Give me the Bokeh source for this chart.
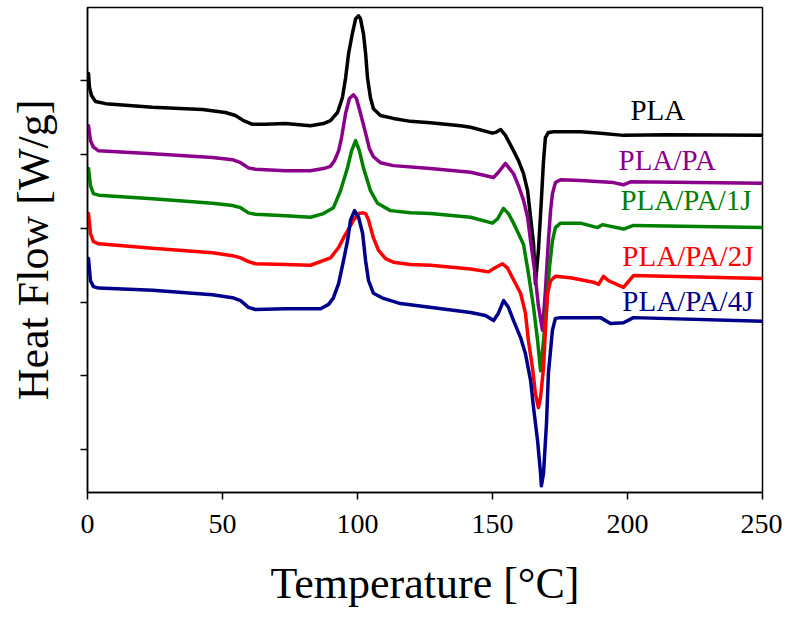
from bokeh.plotting import figure
from bokeh.models import FixedTicker, Label, Range1d
from bokeh.embed import file_html
from bokeh.resources import INLINE

temp_ticks = [0, 50, 100, 150, 200, 250]
hf_ticks = [1, 2, 3, 4, 5, 6]

names = ["PLA", "PLA/PA", "PLA/PA/1J", "PLA/PA/2J", "PLA/PA/4J"]
colors = ["#000000", "#8B008B", "#008000", "#FF0000", "#00008B"]

pla_t = [0.37, 0.74, 1.48, 2.96, 6.7, 24.1, 42.6, 51.1, 54.8, 57.8, 61.1, 65.9, 73.3, 82.6, 87.4,
         90.0, 92.6, 94.4, 95.6, 96.7, 98.1, 99.3, 100.4, 101.1, 102.2, 103.0, 103.7, 104.8, 105.9,
         108.5, 113.3, 119.6, 127.0, 138.1, 141.9, 150.0, 151.1, 153.0, 154.8, 157.4, 159.6, 161.5,
         163.0, 164.1, 165.2, 165.9, 167.0, 168.1, 168.9, 169.6, 170.7, 172.6, 182.6, 190.0, 198.5,
         214.8, 250.0]
pla_hf = [6.10, 5.91, 5.80, 5.72, 5.69, 5.64, 5.61, 5.57, 5.53, 5.46, 5.41, 5.41, 5.42, 5.39, 5.42,
          5.46, 5.57, 5.77, 6.04, 6.37, 6.64, 6.84, 6.88, 6.84, 6.64, 6.37, 6.04, 5.77, 5.62,
          5.53, 5.49, 5.45, 5.43, 5.39, 5.37, 5.29, 5.30, 5.34, 5.26, 5.08, 4.92, 4.74,
          4.51, 4.15, 3.79, 3.25, 3.70, 4.38, 4.92, 5.23, 5.30, 5.31, 5.31, 5.29, 5.26,
          5.27, 5.26]

pa_t = [0.37, 1.1, 2.2, 4.1, 24.1, 46.3, 53.7, 56.7, 59.6, 62.2, 73.3, 82.6, 87.4, 90.0, 91.5,
        93.0, 94.1, 95.6, 97.0, 98.5, 99.6, 101.1, 103.0, 104.4, 105.9, 108.5, 113.3, 127.0, 141.9,
        150.4, 152.2, 154.8, 156.3, 157.8, 159.6, 161.5, 163.0, 164.1, 165.6, 167.0, 168.5, 169.6,
        170.7, 171.5, 172.2, 173.3, 175.2, 182.6, 194.8, 198.5, 201.1, 250.0]
pa_hf = [5.39, 5.19, 5.10, 5.05, 5.01, 4.96, 4.93, 4.89, 4.82, 4.80, 4.78, 4.78, 4.81, 4.84, 4.92,
         5.05, 5.23, 5.56, 5.76, 5.81, 5.76, 5.56, 5.29, 5.08, 4.97, 4.89, 4.85, 4.81, 4.76,
         4.69, 4.76, 4.88, 4.81, 4.74, 4.58, 4.38, 4.15, 3.83, 3.43, 2.95, 2.62, 3.16,
         3.83, 4.24, 4.47, 4.62, 4.66, 4.65, 4.62, 4.59, 4.63, 4.61]

j1_t = [0.37, 1.1, 2.2, 4.1, 24.1, 46.3, 53.7, 56.7, 59.6, 62.2, 73.3, 82.6, 87.4, 91.1, 93.7,
        96.3, 97.8, 99.3, 100.7, 102.2, 104.8, 107.4, 112.2, 119.6, 127.0, 141.9, 150.0, 151.9,
        154.1, 155.9, 157.8, 159.6, 161.5, 163.3, 165.2, 166.7, 167.8, 168.9, 170.0, 171.1, 172.2,
        173.3, 175.2, 182.6, 188.9, 190.7, 198.5, 202.2, 250.0]
j1_hf = [4.81, 4.58, 4.47, 4.45, 4.40, 4.34, 4.31, 4.28, 4.21, 4.19, 4.17, 4.15, 4.20, 4.28, 4.51,
         4.82, 5.05, 5.19, 5.05, 4.82, 4.51, 4.34, 4.24, 4.21, 4.20, 4.15, 4.07, 4.13,
         4.27, 4.20, 4.07, 3.93, 3.78, 3.39, 2.93, 2.48, 2.07, 2.48, 2.93, 3.47, 3.83,
         4.01, 4.07, 4.07, 4.01, 4.05, 3.99, 4.04, 4.01]

j2_t = [0.37, 1.1, 2.2, 4.1, 24.1, 46.3, 53.7, 56.7, 59.6, 62.2, 73.3, 82.6, 90.0, 93.0, 94.8,
        96.7, 98.5, 100.4, 101.9, 103.0, 104.1, 105.9, 107.8, 110.4, 113.3, 119.6, 127.0, 141.9,
        148.5, 151.1, 153.7, 155.6, 157.4, 160.4, 162.2, 163.3, 164.8, 165.9, 167.0, 167.8, 168.9,
        169.6, 170.4, 171.5, 173.3, 178.9, 187.4, 189.3, 191.1, 193.0, 198.5, 202.2, 250.0]
j2_hf = [4.20, 3.93, 3.82, 3.79, 3.73, 3.67, 3.63, 3.60, 3.55, 3.52, 3.51, 3.50, 3.60, 3.74, 3.87,
         3.99, 4.11, 4.20, 4.21, 4.20, 4.11, 3.87, 3.70, 3.59, 3.54, 3.51, 3.50, 3.45,
         3.41, 3.47, 3.52, 3.46, 3.33, 3.12, 2.85, 2.48, 2.11, 1.76, 1.57, 1.71, 2.11,
         2.62, 3.12, 3.29, 3.35, 3.33, 3.27, 3.24, 3.35, 3.29, 3.20, 3.36, 3.32]

j4_t = [0.37, 1.1, 2.2, 4.1, 24.1, 46.3, 53.7, 56.7, 59.6, 62.2, 73.3, 86.3, 89.3, 91.1, 93.0,
        94.8, 96.3, 97.4, 98.9, 100.4, 101.9, 103.0, 104.1, 105.9, 109.6, 115.9, 141.9, 147.4,
        150.4, 152.2, 154.1, 155.9, 157.8, 160.4, 162.2, 164.1, 165.2, 166.7, 167.8, 168.1, 168.9,
        170.0, 170.7, 172.2, 173.3, 175.2, 190.0, 193.7, 198.5, 202.2, 250.0]
j4_hf = [3.59, 3.29, 3.21, 3.19, 3.16, 3.10, 3.06, 3.02, 2.93, 2.90, 2.91, 2.91, 2.97, 3.06, 3.25,
         3.56, 3.83, 4.11, 4.24, 4.15, 3.93, 3.56, 3.29, 3.12, 3.05, 2.98, 2.86, 2.82,
         2.75, 2.85, 3.02, 2.93, 2.75, 2.52, 2.30, 1.94, 1.57, 1.12, 0.68, 0.51, 0.68,
         1.36, 2.03, 2.62, 2.78, 2.79, 2.79, 2.71, 2.72, 2.79, 2.74]

series_t = [pla_t, pa_t, j1_t, j2_t, j4_t]
series_hf = [pla_hf, pa_hf, j1_hf, j2_hf, j4_hf]

label_pos = [(201.1, 5.61), (196.7, 4.93), (197.4, 4.38), (198.1, 3.62), (198.1, 3.01)]

FONT = "Liberation Serif"

p = figure(width=782, height=620, output_backend="svg", toolbar_location=None,
           x_range=Range1d(0, 250), y_range=Range1d(0.42, 6.993),
           min_border_left=87, min_border_right=20, min_border_top=7, min_border_bottom=128)
p.background_fill_color = "white"
p.border_fill_color = "white"
p.outline_line_color = "black"
p.outline_line_width = 1.5
p.xgrid.visible = False
p.ygrid.visible = False

for t, hf, c in zip(series_t, series_hf, colors):
    p.line(t, hf, line_color=c, line_width=3.5, line_join="round", line_cap="round")

for name, c, (lx, ly) in zip(names, colors, label_pos):
    p.add_layout(Label(x=lx, y=ly, text=name, text_color=c, text_font=FONT,
                       text_font_size="29px", text_align="left", text_baseline="alphabetic"))

xa = p.xaxis[0]
xa.ticker = FixedTicker(ticks=temp_ticks)
xa.minor_tick_line_color = None
xa.major_tick_in = 0
xa.major_tick_out = 7
xa.major_tick_line_width = 1.5
xa.axis_line_width = 1.5
xa.major_label_text_font = FONT
xa.major_label_text_font_size = "28px"
xa.major_label_text_color = "black"
xa.major_label_standoff = 15
xa.axis_label = "Temperature [°C]"
xa.axis_label_text_font = FONT
xa.axis_label_text_font_size = "44px"
xa.axis_label_text_font_style = "normal"
xa.axis_label_text_color = "black"
xa.axis_label_standoff = 23

ya = p.yaxis[0]
ya.ticker = FixedTicker(ticks=hf_ticks)
ya.major_label_overrides = {t: "" for t in hf_ticks}
ya.minor_tick_line_color = None
ya.major_tick_in = 0
ya.major_tick_out = 7
ya.major_tick_line_width = 1.5
ya.axis_line_width = 1.5
ya.major_label_standoff = 0
ya.axis_label = "Heat Flow [W/g]"
ya.axis_label_text_font = FONT
ya.axis_label_text_font_size = "44px"
ya.axis_label_text_font_style = "normal"
ya.axis_label_text_color = "black"
ya.axis_label_standoff = 23

open("out.html", "w").write(file_html(p, INLINE))
